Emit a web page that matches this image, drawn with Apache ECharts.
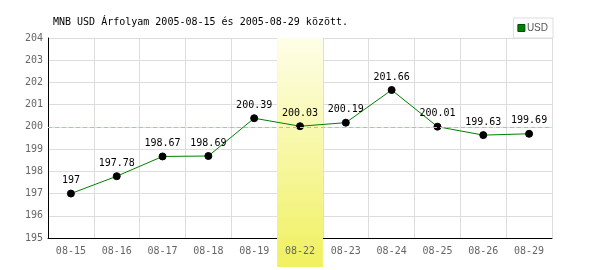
<!DOCTYPE html>
<html><head><meta charset="utf-8">
<script src="https://cdn.jsdelivr.net/npm/echarts@6/dist/echarts.min.js"></script>
<style>html,body{margin:0;padding:0;background:#fff}#c{width:600px;height:270px}</style>
</head><body><div id="c"></div>
<script>
const categories = ['08-15','08-16','08-17','08-18','08-19','08-22','08-23','08-24','08-25','08-26','08-29'];
const usdValues = [197, 197.78, 198.67, 198.69, 200.39, 200.03, 200.19, 201.66, 200.01, 199.63, 199.69];
const highlightDay = '08-22';
const referenceLevel = 200;
const yMin = 195, yMax = 204;

const mono = '"DejaVu Sans Mono", "Liberation Mono", monospace';
const highlightData = categories.map(c => c === highlightDay ? 1 : null);

const chart = echarts.init(document.getElementById('c'), null, {renderer: 'canvas'});
chart.setOption({
  animation: false,
  backgroundColor: '#fff',
  title: {
    text: 'MNB USD Árfolyam 2005-08-15 és 2005-08-29 között.',
    left: 53, top: 17, padding: 0,
    textStyle: {fontFamily: mono, fontSize: 10, fontWeight: 'normal', color: '#000'}
  },
  legend: {
    data: [{name: 'USD', itemStyle: {color: '#008000', borderColor: '#004d00', borderWidth: 1}}],
    right: 47, top: 18,
    backgroundColor: '#fff', borderColor: '#ddd', borderWidth: 1,
    padding: [5, 5, 5, 4], itemWidth: 7, itemHeight: 7, itemGap: 4,
    icon: 'rect',
    textStyle: {fontFamily: 'Liberation Sans, sans-serif', fontSize: 10, color: '#555', padding: [0,0,0,-3]},
    z: 6
  },
  grid: [
    {left: 48, right: 48, top: 38, bottom: 32},
    {left: 48, right: 48, top: 38, bottom: 3}
  ],
  xAxis: [
    {gridIndex: 0, type: 'category', data: categories, boundaryGap: true, z: 0, position: 'bottom',
     axisLine: {lineStyle: {color: '#000', width: 1}}, axisTick: {show: false},
     axisLabel: {show: false},
     splitLine: {show: true, lineStyle: {color: '#ddd'}}},
    {gridIndex: 1, type: 'category', data: categories, boundaryGap: true, show: false},
    {gridIndex: 0, type: 'category', data: categories, boundaryGap: true, z: 10, position: 'bottom', offset: 0,
     axisLine: {show: false}, axisTick: {show: false}, splitLine: {show: false},
     axisLabel: {fontFamily: mono, fontSize: 10, color: '#666', margin: 8}}
  ],
  yAxis: [
    {gridIndex: 0, type: 'value', min: yMin, max: yMax, interval: 1, z: 0,
     axisLine: {show: true, lineStyle: {color: '#000'}}, axisTick: {show: false},
     axisLabel: {fontFamily: mono, fontSize: 10, color: '#666', margin: 5},
     splitLine: {show: true, lineStyle: {color: '#ddd'}}},
    {gridIndex: 1, type: 'value', min: 0, max: 1, show: false}
  ],
  series: [
    {name: 'ref', type: 'line', xAxisIndex: 0, yAxisIndex: 0, data: [], z: 1,
     silent: true,
     markLine: {silent: true, symbol: 'none', label: {show: false},
       lineStyle: {color: '#8fd88f', type: [4, 3], width: 1, opacity: 1},
       emphasis: {disabled: true},
       data: [{yAxis: referenceLevel}]}},
    {name: 'hl', type: 'bar', xAxisIndex: 1, yAxisIndex: 1, data: highlightData, z: 2,
     barWidth: '100%', silent: true,
     itemStyle: {color: new echarts.graphic.LinearGradient(0, 0, 0, 1, [
       {offset: 0, color: '#fefee8'}, {offset: 1, color: '#f0f060'}])}},
    {name: 'USD', type: 'line', xAxisIndex: 0, yAxisIndex: 0, data: usdValues, z: 3,
     lineStyle: {color: '#008000', width: 1},
     symbol: 'circle', symbolSize: 7,
     itemStyle: {color: '#000', borderColor: '#000'},
     label: {show: true, position: 'top', distance: 4, fontFamily: mono, fontSize: 10, color: '#000'}}
  ]
});
</script></body></html>
